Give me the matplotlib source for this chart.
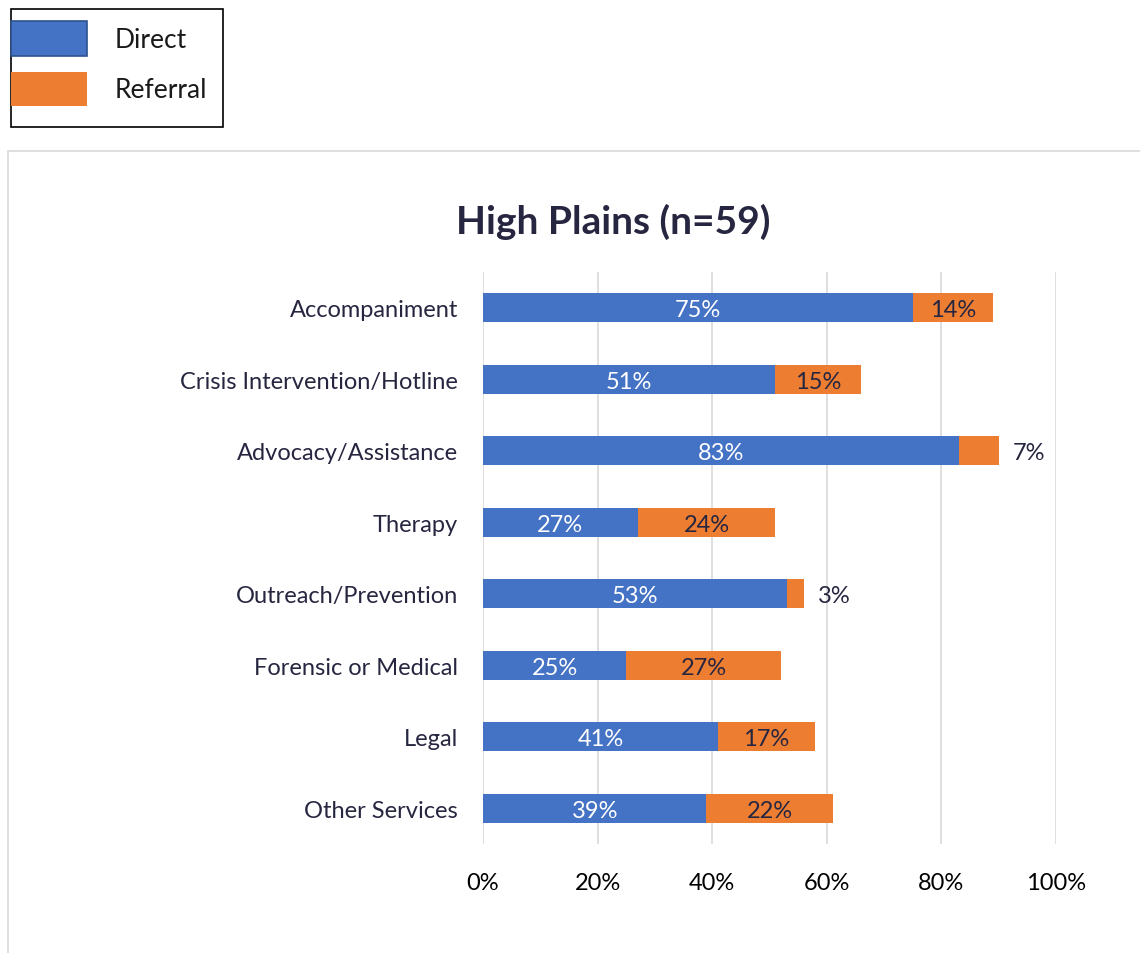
import matplotlib.pyplot as plt
from matplotlib.patches import Rectangle

categories = ['Accompaniment', 'Crisis Intervention/Hotline', 'Advocacy/Assistance', 'Therapy',
              'Outreach/Prevention', 'Forensic or Medical', 'Legal', 'Other Services']
direct = [75, 51, 83, 27, 53, 25, 41, 39]
referral = [14, 15, 7, 24, 3, 27, 17, 22]
ticks = [0, 20, 40, 60, 80, 100]

BLUE = '#4472C4'
ORANGE = '#ED7D31'
DARK = '#262641'

plt.rcParams['font.family'] = ['Lato', 'DejaVu Sans']

W, H = 1140, 954
fig = plt.figure(figsize=(W / 100, H / 100), dpi=100)

# chart area frame (light gray), only top and left edges visible
fig.patches.append(Rectangle((8 / W, -0.2), 1.2, 1.2 - 152 / H, transform=fig.transFigure,
                             fill=False, edgecolor='#D9D9D9', linewidth=1.2))

# legend box outside chart
fig.patches.append(Rectangle((11 / W, 1 - 128 / H), 212 / W, 118 / H, transform=fig.transFigure,
                             fill=False, edgecolor='black', linewidth=1.2))
fig.patches.append(Rectangle((11 / W, 1 - 57 / H), 76 / W, 35 / H, transform=fig.transFigure,
                             facecolor=BLUE, edgecolor='#2F528F', linewidth=1.2))
fig.patches.append(Rectangle((11 / W, 1 - 107 / H), 76 / W, 34 / H, transform=fig.transFigure,
                             facecolor=ORANGE, edgecolor='none'))
fig.text(115 / W, 1 - 40 / H, 'Direct', fontsize=19, va='center', ha='left', color='#1a1a1a')
fig.text(115 / W, 1 - 90 / H, 'Referral', fontsize=19, va='center', ha='left', color='#1a1a1a')

ax = fig.add_axes([483 / W, 1 - 845 / H, (1056 - 483) / W, (845 - 273) / H])
y = list(range(len(categories)))
ax.barh(y, direct, height=0.41, color=BLUE)
ax.barh(y, referral, left=direct, height=0.41, color=ORANGE)

for i, (d, r) in enumerate(zip(direct, referral)):
    ax.text(d / 2, i + 0.03, f'{d}%', ha='center', va='center', color='white', fontsize=17)
    if r >= 10:
        ax.text(d + r / 2, i + 0.03, f'{r}%', ha='center', va='center', color=DARK, fontsize=17)
    else:
        ax.text(d + r + 5.3, i + 0.03, f'{r}%', ha='center', va='center', color=DARK, fontsize=17)

ax.set_xlim(0, 100)
ax.set_ylim(len(categories) - 0.5, -0.5)
ax.set_xticks(ticks)
ax.set_xticklabels([f'{t}%' for t in ticks], fontsize=17, color='black')
ax.set_yticks(y)
ax.set_yticklabels(categories, fontsize=17, color=DARK)
ax.tick_params(length=0)
ax.tick_params(axis='x', pad=20)
ax.tick_params(axis='y', pad=18)
ax.xaxis.grid(True, color='#D9D9D9', linewidth=1.2)
ax.set_axisbelow(True)
for s in ax.spines.values():
    s.set_visible(False)

fig.text(613 / W, 1 - 222 / H, 'High Plains (n=59)', fontsize=28, fontweight='bold',
         ha='center', va='center', color=DARK)

fig.savefig('out.png', dpi=100)
